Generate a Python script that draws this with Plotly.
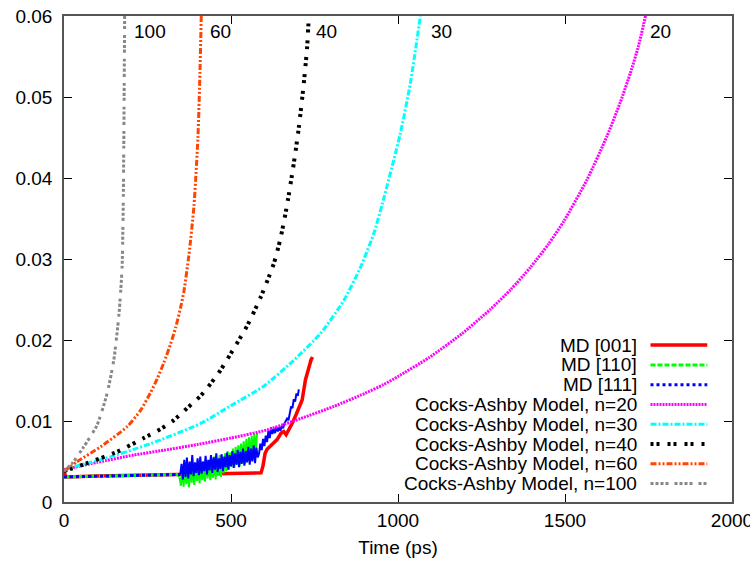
import plotly.graph_objects as go

# ---------------- data ----------------
# MD [001]
md001_t = [0, 6, 100, 200, 345, 450, 500, 590, 596, 602, 608, 620, 638, 650, 658, 665, 672,
           683, 695, 705, 713, 723, 730, 736, 740, 737, 744]
md001_y = [0.0037, 0.0031, 0.0032, 0.0033, 0.0034, 0.0035, 0.0036, 0.0036, 0.0045, 0.0060,
           0.0065, 0.0070, 0.0077, 0.0085, 0.0087, 0.0083, 0.0088, 0.0097, 0.0108, 0.0118,
           0.0126, 0.0151, 0.0163, 0.0172, 0.0176, 0.0173, 0.0179]

# MD [110]
md110_t = [0, 100, 200, 300, 342] + list(range(346, 582, 4))
md110_y = [0.0031, 0.0032, 0.0033, 0.0034, 0.0034,
           0.0030, 0.0020, 0.0042, 0.0019, 0.0045, 0.0022, 0.0040, 0.0018, 0.0046, 0.0024,
           0.0043, 0.0021, 0.0048, 0.0026, 0.0044, 0.0023, 0.0050, 0.0027, 0.0047, 0.0025,
           0.0052, 0.0029, 0.0049, 0.0027, 0.0053, 0.0030, 0.0056, 0.0028, 0.0052, 0.0033,
           0.0058, 0.0031, 0.0055, 0.0036, 0.0060, 0.0038, 0.0063, 0.0040, 0.0061, 0.0044,
           0.0066, 0.0042, 0.0068, 0.0046, 0.0070, 0.0044, 0.0072, 0.0048, 0.0075, 0.0047,
           0.0078, 0.0050, 0.0080, 0.0052, 0.0082, 0.0055, 0.0084, 0.0060, 0.0085]
md110_smooth_n = 5

# MD [111]
md111_t = ([0, 100, 200, 300, 345] + list(range(348, 584, 4)) +
           [584, 588, 592, 596, 600, 604, 608, 612, 616, 620, 624, 628, 632, 636, 640, 644,
            648, 652, 656, 660, 664, 668, 672, 676, 680, 684, 688, 692, 696, 700, 703])
md111_y = [0.0031, 0.0032, 0.0033, 0.0034, 0.0034,
           0.0034, 0.0047, 0.0028, 0.0052, 0.0031, 0.0055, 0.0029, 0.0050, 0.0034, 0.0058,
           0.0032, 0.0049, 0.0036, 0.0054, 0.0033, 0.0056, 0.0035, 0.0050, 0.0038, 0.0057,
           0.0034, 0.0052, 0.0039, 0.0058, 0.0036, 0.0055, 0.0040, 0.0060, 0.0037, 0.0054,
           0.0041, 0.0059, 0.0038, 0.0056, 0.0043, 0.0061, 0.0040, 0.0058, 0.0044, 0.0063,
           0.0042, 0.0060, 0.0046, 0.0064, 0.0043, 0.0062, 0.0047, 0.0066, 0.0045, 0.0063,
           0.0049, 0.0068, 0.0046, 0.0066, 0.0050, 0.0070, 0.0048, 0.0067, 0.0055,
           0.0060, 0.0072, 0.0064, 0.0078, 0.0069, 0.0082, 0.0074, 0.0088, 0.0079, 0.0092,
           0.0084, 0.0090, 0.0085, 0.0093, 0.0087, 0.0092, 0.0088, 0.0094, 0.0091, 0.0097,
           0.0100, 0.0103, 0.0101, 0.0110, 0.0118, 0.0116, 0.0127, 0.0124, 0.0134, 0.0131,
           0.0139]
md111_smooth_n = 5

# Cocks-Ashby model curves
ca20_t = [0, 100, 209, 300, 400, 500, 608, 708, 808, 900, 957, 1000, 1092, 1192, 1277, 1337,
          1397, 1450, 1497, 1566, 1626, 1666, 1696, 1720, 1741]
ca20_y = [0.0040, 0.0049, 0.0058, 0.0064, 0.0071, 0.0079, 0.0089, 0.0103, 0.0118, 0.0134,
          0.0145, 0.0155, 0.0178, 0.0208, 0.0238, 0.0262, 0.0290, 0.0318, 0.0347, 0.0398,
          0.0452, 0.0494, 0.0530, 0.0563, 0.0600]

ca30_t = [0, 10, 109, 259, 409, 500, 598, 688, 768, 838, 888, 928, 953, 1007, 1037, 1067]
ca30_y = [0.0038, 0.0041, 0.0052, 0.0072, 0.0097, 0.0119, 0.0143, 0.0175, 0.0208, 0.0249,
          0.0290, 0.0332, 0.0368, 0.0455, 0.0517, 0.0600]

ca40_t = [0, 69, 159, 239, 289, 329, 369, 409, 439, 469, 499, 549, 588, 628, 648, 668, 688,
          703, 718, 728, 733]
ca40_y = [0.0038, 0.0048, 0.0062, 0.0079, 0.0090, 0.0101, 0.0116, 0.0131, 0.0146, 0.0163,
          0.0183, 0.0218, 0.0252, 0.0294, 0.0325, 0.0367, 0.0418, 0.0462, 0.0517, 0.0562,
          0.0600]

ca60_t = [0, 40, 109, 189, 229, 259, 279, 299, 319, 334, 349, 359, 374, 389, 401, 407, 411]
ca60_y = [0.0038, 0.0050, 0.0068, 0.0093, 0.0113, 0.0135, 0.0152, 0.0172, 0.0195, 0.0215,
          0.0240, 0.0260, 0.0305, 0.0365, 0.0450, 0.0530, 0.0600]

ca100_t = [0, 25, 59, 99, 129, 149, 164, 170, 174, 176, 177.5, 179, 180, 181, 181.5]
ca100_y = [0.0038, 0.0048, 0.0068, 0.0095, 0.0134, 0.0175, 0.0229, 0.0262, 0.0290, 0.0330,
           0.0370, 0.0440, 0.0500, 0.0560, 0.0600]

x_ticks = [0, 500, 1000, 1500, 2000]
x_ticklabels = ["0", "500", "1000", "1500", "2000"]
y_ticks = [0, 0.01, 0.02, 0.03, 0.04, 0.05, 0.06]
y_ticklabels = ["0", "0.01", "0.02", "0.03", "0.04", "0.05", "0.06"]

curve_labels = ["100", "60", "40", "30", "20"]
curve_label_t = [205, 430, 748, 1092, 1749]
curve_label_y = [0.0581, 0.0581, 0.0581, 0.0581, 0.0581]

legend_names = ["MD [001]", "MD [110]", "MD [111]",
                "Cocks-Ashby Model, n=20", "Cocks-Ashby Model, n=30",
                "Cocks-Ashby Model, n=40", "Cocks-Ashby Model, n=60",
                "Cocks-Ashby Model, n=100"]

# ---------------- styles ----------------
FONT = "Liberation Sans, Arial, sans-serif"
FS = 19
styles = [
    dict(color="#FF0000", width=3.5, dash="solid"),
    dict(color="#00FF00", width=3, dash="5px,2px"),
    dict(color="#0000FF", width=3, dash="3px,3px"),
    dict(color="#FF00FF", width=3, dash="2px,1px"),
    dict(color="#00FFFF", width=3, dash="6px,2px,2px,2px"),
    dict(color="#000000", width=4, dash="3px,3px,3px,8px"),
    dict(color="#FF4500", width=3, dash="6px,2px,2px,2px,2px,2px"),
    dict(color="#888888", width=3, dash="3px,2px,3px,2px,3px,2px,3px,6px"),
]

fig = go.Figure()

# MD [001]
fig.add_trace(go.Scatter(x=md001_t, y=md001_y, mode="lines", line=styles[0], showlegend=False))
# MD [110]: smooth part dashed, noisy part drawn solid (dense noise looks filled)
fig.add_trace(go.Scatter(x=md110_t[:md110_smooth_n + 1], y=md110_y[:md110_smooth_n + 1],
                         mode="lines", line=styles[1], showlegend=False))
fig.add_trace(go.Scatter(x=md110_t[md110_smooth_n:], y=md110_y[md110_smooth_n:], mode="lines",
                         line=dict(color=styles[1]["color"], width=2), showlegend=False))
# MD [111]
fig.add_trace(go.Scatter(x=md111_t[:md111_smooth_n + 1], y=md111_y[:md111_smooth_n + 1],
                         mode="lines", line=styles[2], showlegend=False))
fig.add_trace(go.Scatter(x=md111_t[md111_smooth_n:], y=md111_y[md111_smooth_n:], mode="lines",
                         line=dict(color=styles[2]["color"], width=2), showlegend=False))

for (t, y), st in zip([(ca20_t, ca20_y), (ca30_t, ca30_y), (ca40_t, ca40_y),
                       (ca60_t, ca60_y), (ca100_t, ca100_y)], styles[3:]):
    fig.add_trace(go.Scatter(x=t, y=y, mode="lines", showlegend=False,
                             line=dict(st, shape="spline", smoothing=0.6)))

annotations = []
for lab, t, y in zip(curve_labels, curve_label_t, curve_label_y):
    annotations.append(dict(x=t, y=y, xref="x", yref="y", text=lab, showarrow=False,
                            xanchor="left", yanchor="middle",
                            font=dict(family=FONT, size=FS, color="black")))

# gnuplot-style key: right-aligned text with line sample on its right
shapes = []
key_text_x = 1721
key_line_x0, key_line_x1 = 1756, 1926
key_y0, key_dy = 0.01937, 0.002443
for i, (name, st) in enumerate(zip(legend_names, styles)):
    yy = key_y0 - i * key_dy
    annotations.append(dict(x=key_text_x, y=yy, xref="x", yref="y", text=name,
                            showarrow=False, xanchor="right", yanchor="middle",
                            font=dict(family=FONT, size=FS, color="black")))
    shapes.append(dict(type="line", xref="x", yref="y", x0=key_line_x0, x1=key_line_x1,
                       y0=yy, y1=yy, line=dict(color=st["color"], width=st["width"],
                                               dash=st["dash"])))

fig.update_layout(
    width=750, height=563,
    margin=dict(l=64, r=18, t=16, b=61),
    paper_bgcolor="white", plot_bgcolor="white",
    font=dict(family=FONT, size=FS, color="black"),
    annotations=annotations, shapes=shapes,
    xaxis=dict(range=[0, 2000], tickvals=x_ticks, ticktext=x_ticklabels,
               ticks="inside", ticklen=8, tickcolor="black", tickwidth=1,
               showline=True, linecolor="#555555", linewidth=1.5, mirror="allticks",
               showgrid=False, zeroline=False, ticklabeloverflow="allow", automargin=False,
               title=dict(text="Time (ps)", standoff=11, font=dict(size=FS))),
    yaxis=dict(range=[0, 0.06], tickvals=y_ticks, ticktext=y_ticklabels,
               ticks="inside", ticklen=8, tickcolor="black", tickwidth=1,
               showline=True, linecolor="#555555", linewidth=1.5, mirror="allticks",
               showgrid=False, zeroline=False, ticklabelstandoff=6, automargin=False),
)

fig.write_html("out.html")
